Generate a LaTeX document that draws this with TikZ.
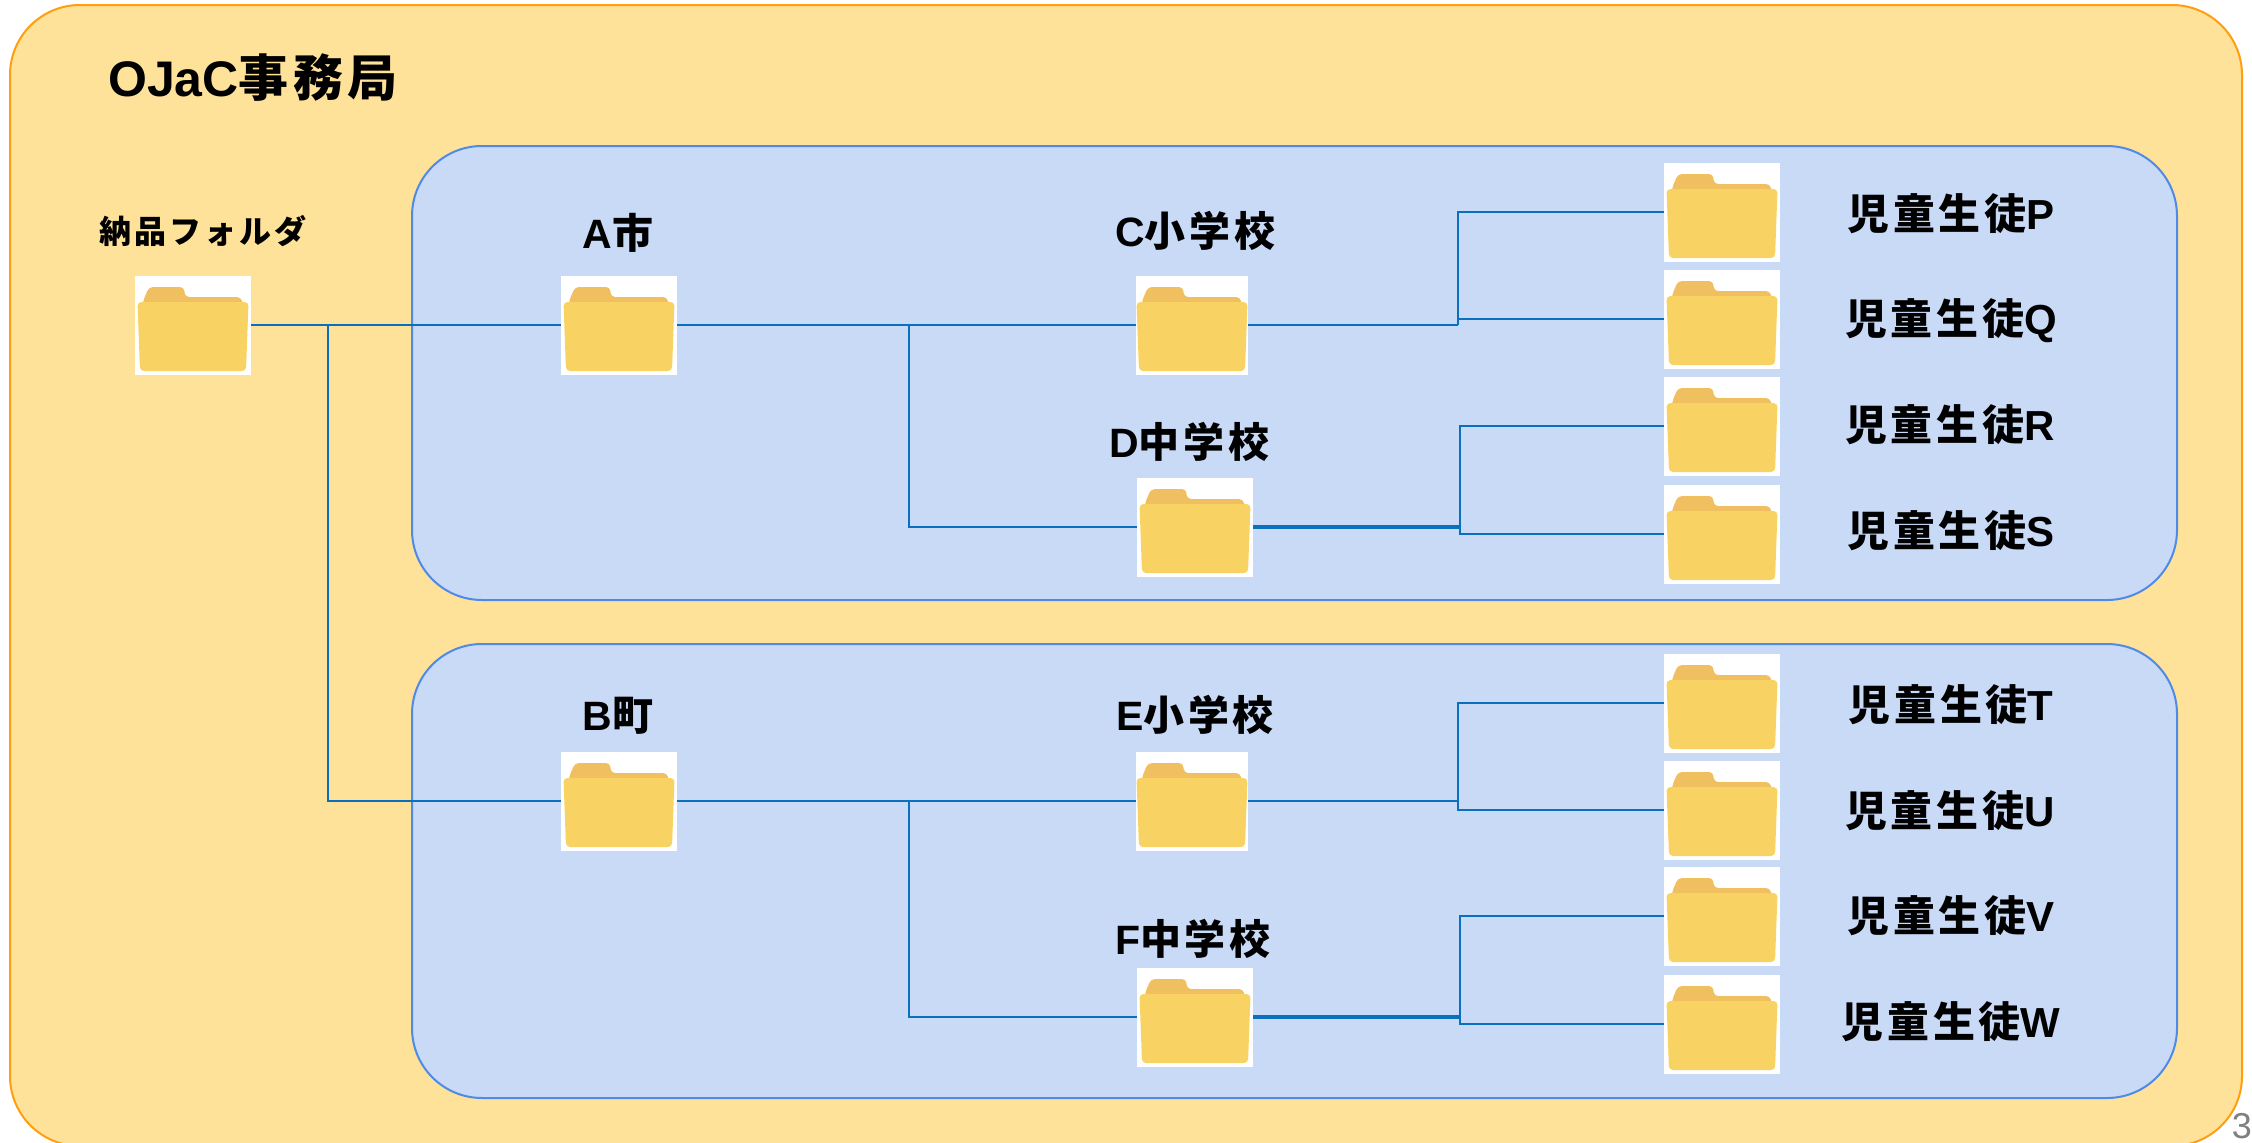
\documentclass[tikz,border=0pt]{standalone}
\usepackage{fontspec}
\setmainfont{Liberation Sans}
\newfontfamily\jpfont{Noto Sans CJK JP}[LetterSpace=9]
\newcommand{\jp}[1]{{\jpfont\bfseries #1}}
\newcommand{\student}[1]{\jp{児童生徒}#1}
\definecolor{officefill}{HTML}{FFE299}
\definecolor{officeline}{HTML}{FF9E0F}
\definecolor{cityfill}{HTML}{C9DAF7}
\definecolor{cityline}{HTML}{4F8AE6}
\definecolor{linkblue}{HTML}{0A70BE}
\definecolor{foldertab}{HTML}{F0C060}
\definecolor{folderbody}{HTML}{F8D363}

\begin{document}
\begin{tikzpicture}[x=1pt,y=-1pt]
 \tikzset{region/.style={rounded corners=70pt,line width=2pt,inner sep=0pt,outer sep=0pt}}
 \tikzset{folder/.style={rectangle,fill=white,inner sep=0pt,outer sep=0pt,minimum width=116pt,minimum height=99pt,
   path picture={
    \begin{scope}[shift={(path picture bounding box.center)}]
     \fill[foldertab,rounded corners=4pt] (-50,20) -- (-50,-24) -- (-44,-38) -- (-9,-38) -- (-8,-28) -- (48,-28) -- (50,-20) -- (50,20) -- cycle;
     \fill[folderbody,rounded corners=4pt] (-55.5,-23) -- (55.5,-23) -- (53,46) -- (-53,46) -- cycle;
    \end{scope}}}}
 \tikzset{narrowfolder/.style={folder,minimum width=112pt}}
 \tikzset{link/.style={linkblue,line width=1.7pt}}
 \tikzset{heavylink/.style={linkblue,line width=3.2pt}}
 \tikzset{label/.style={inner sep=0pt,outer sep=0pt,font=\bfseries\fontsize{41}{48}\selectfont,text height=30pt,text depth=4pt}}
 \tikzset{studentlabel/.style={label,font=\bfseries\fontsize{42}{48}\selectfont}}

 \useasboundingbox (0,0) rectangle (2252,1143);
 \fill[white] (0,0) rectangle (2252,1143);
 \clip (0,0) rectangle (2252,1143);

 \node[region,draw=officeline,fill=officefill,minimum width=2232pt,minimum height=1141pt] (office) at (1126,575.5) {};
 \node[region,draw=cityline,fill=cityfill,minimum width=1765pt,minimum height=454pt] (cityA) at (1294.5,373) {};
 \node[region,draw=cityline,fill=cityfill,minimum width=1765pt,minimum height=454pt] (cityB) at (1294.5,871) {};

 \node[label,font=\bfseries\fontsize{50}{56}\selectfont] (title) at (253,83) {OJaC\jp{事務局}};
 \node[label,font=\bfseries\fontsize{32}{36}\selectfont,text height=25pt] (rootlabel) at (203,233) {\jp{納品フォルダ}};
 \node[label] (alabel) at (618,235) {A\jp{市}};
 \node[label] (clabel) at (1195,233) {C\jp{小学校}};
 \node[label] (dlabel) at (1189,444) {D\jp{中学校}};
 \node[label] (blabel) at (618,717) {B\jp{町}};
 \node[label] (elabel) at (1195,717) {E\jp{小学校}};
 \node[label] (flabel) at (1193,941) {F\jp{中学校}};

 \node[folder] (root) at (193,325) {};
 \node[folder] (a) at (619,325) {};
 \node[narrowfolder] (c) at (1192,325) {};
 \node[folder] (d) at (1195,527) {};
 \node[folder] (b) at (619,801) {};
 \node[narrowfolder] (e) at (1192,801) {};
 \node[folder] (f) at (1195,1017) {};

 \node[folder] (p) at (1722,212) {};
 \node[folder] (q) at (1722,319) {};
 \node[folder] (r) at (1722,426) {};
 \node[folder] (s) at (1722,534) {};
 \node[folder] (t) at (1722,703) {};
 \node[folder] (u) at (1722,810) {};
 \node[folder] (v) at (1722,916) {};
 \node[folder] (w) at (1722,1024) {};

 \node[studentlabel] (plabel) at (1951,216) {\student{P}};
 \node[studentlabel] (qlabel) at (1951,321) {\student{Q}};
 \node[studentlabel] (rlabel) at (1950,427) {\student{R}};
 \node[studentlabel] (slabel) at (1951,533) {\student{S}};
 \node[studentlabel] (tlabel) at (1951,707) {\student{T}};
 \node[studentlabel] (ulabel) at (1950,813) {\student{U}};
 \node[studentlabel] (vlabel) at (1951,918) {\student{V}};
 \node[studentlabel] (wlabel) at (1951,1024) {\student{W}};

 \node[anchor=east,inner sep=0pt,gray,font=\fontsize{36}{44}\selectfont] (page) at (2252,1126) {3};

 \coordinate (rootjoin) at (328,325);
 \coordinate (ajoin) at (909,325);
 \coordinate (bjoin) at (909,801);
 \coordinate (cjoin) at (1458,325);
 \coordinate (djoin) at (1460,527);
 \coordinate (ejoin) at (1458,801);
 \coordinate (fjoin) at (1460,1017);

 \draw[link] (root) -- (a);
 \draw[link] (rootjoin) |- (b);
 \draw[link] (a) -- (c);
 \draw[link] (ajoin) |- (d);
 \draw[link] (b) -- (e);
 \draw[link] (bjoin) |- (f);
 \draw[link,line width=2.4pt] (c) -- (cjoin);
 \draw[heavylink] (d) -- (djoin);
 \draw[link] (e) -- (ejoin);
 \draw[heavylink] (f) -- (fjoin);
 \draw[link] (cjoin) |- (p);
 \draw[link] (cjoin) |- (q);
 \draw[link] (djoin) |- (r);
 \draw[link] (djoin) |- (s);
 \draw[link] (ejoin) |- (t);
 \draw[link] (ejoin) |- (u);
 \draw[link] (fjoin) |- (v);
 \draw[link] (fjoin) |- (w);
\end{tikzpicture}
\end{document}
